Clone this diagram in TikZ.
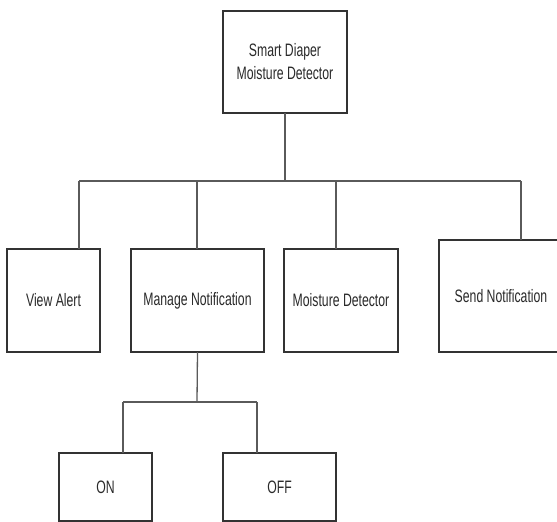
\documentclass[tikz,border=0pt]{standalone}
\usepackage{fontspec}
\setmainfont[FakeStretch=0.68]{Liberation Sans}
\definecolor{boxline}{HTML}{333333}
\definecolor{conn}{HTML}{5A5A5A}
\definecolor{txt}{HTML}{2A2A2A}
\begin{document}
\begin{tikzpicture}[x=1pt,y=-1pt,
  box/.style={draw=boxline, line width=1.4pt, rectangle, inner sep=0pt, outer sep=0pt,
    align=center, text=txt, font=\fontsize{18}{23}\selectfont},
  link/.style={draw=conn, line width=1.3pt}]
\clip (0,0) rectangle (557,522);
\fill[white] (0,0) rectangle (557,522);
% nodes
\node[box, minimum width=124pt, minimum height=102pt] (top) at (285,62) {Smart Diaper\\Moisture Detector};
\node[box, minimum width=93pt, minimum height=103pt] (va) at (53.5,300.5) {View Alert};
\node[box, minimum width=133pt, minimum height=103pt] (mn) at (197.5,300.5) {Manage Notification};
\node[box, minimum width=114pt, minimum height=103pt] (md) at (341,300.5) {Moisture Detector};
\node[box, minimum width=124pt, minimum height=112pt] (sn) at (501,296) {Send Notification};
\node[box, minimum width=93pt, minimum height=68pt] (on) at (105.5,487) {ON};
\node[box, minimum width=113pt, minimum height=68pt] (off) at (279.5,487) {OFF};
% bus coordinates
\coordinate (bus) at (285,181);
\coordinate (b1) at (79,181);
\coordinate (b2) at (197,181);
\coordinate (b3) at (336,181);
\coordinate (b4) at (521,181);
\coordinate (sbus) at (197,402);
\coordinate (s1) at (123,402);
\coordinate (s2) at (257,402);
% connectors
\draw[link] (top.south) -- (bus);
\draw[link] (b1) -- (b4);
\draw[link] (b1) -- (b1 |- va.north);
\draw[link] (b2) -- (b2 |- mn.north);
\draw[link] (b3) -- (b3 |- md.north);
\draw[link] (b4) -- (b4 |- sn.north);
\draw[link] (mn.south) -- (sbus);
\draw[link] (s1) -- (s2);
\draw[link] (s1) -- (s1 |- on.north);
\draw[link] (s2) -- (s2 |- off.north);
\end{tikzpicture}
\end{document}
